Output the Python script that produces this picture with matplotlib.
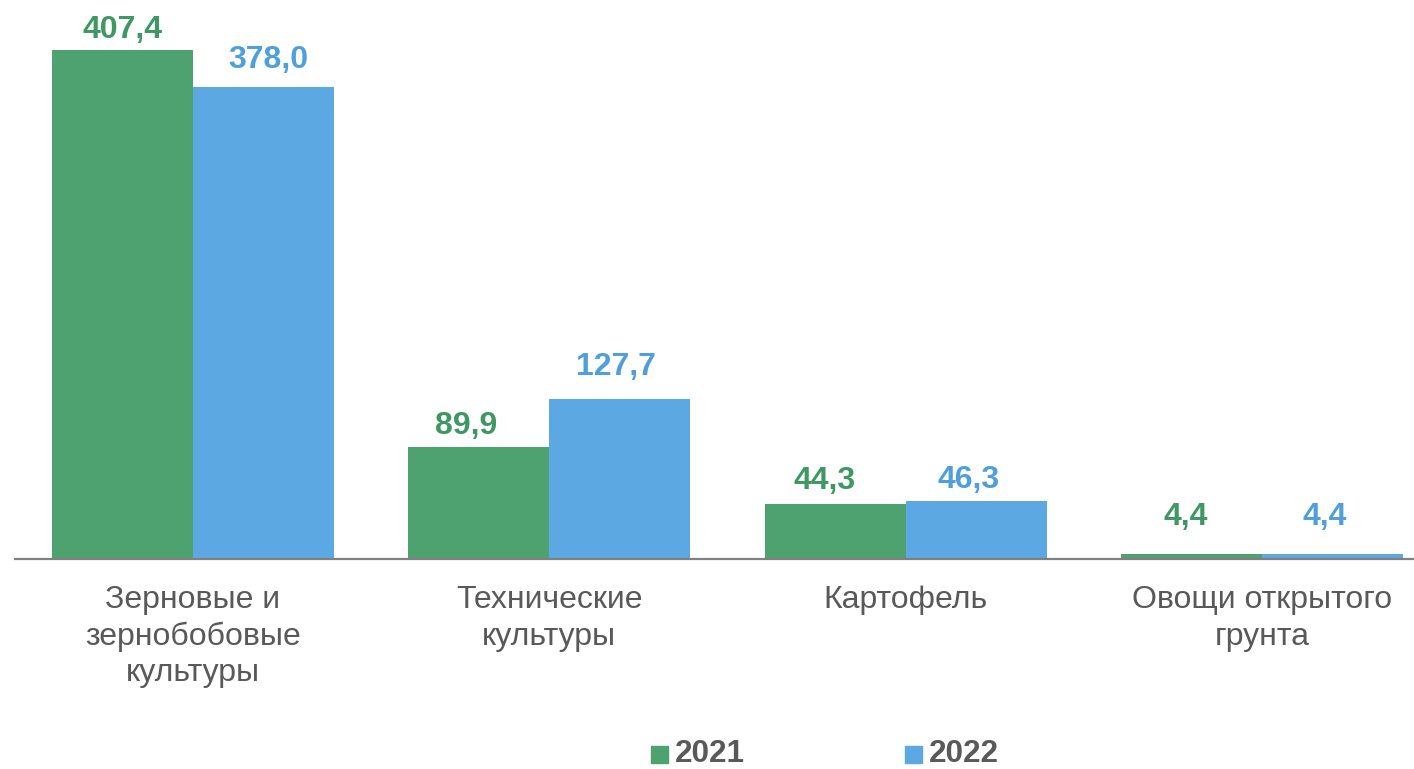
import matplotlib
matplotlib.use("Agg")
import matplotlib.pyplot as plt
import numpy as np

categories = ["Зерновые и\nзернобобовые\nкультуры", "Технические\nкультуры", "Картофель", "Овощи открытого\nгрунта"]
years = ["2021", "2022"]
v2021 = [407.4, 89.9, 44.3, 4.4]
v2022 = [378.0, 127.7, 46.3, 4.4]
# label offsets in pixels (dx, dy up), as placed by hand in the reference
off21 = [(0, 5), (-13, 6), (-11, 8), (-6, 22)]
off22 = [(5, 12), (-4, 17), (-8, 6), (-8, 22)]
c21, c22 = "#4EA270", "#5BA8E3"
t21, t22 = "#3F9762", "#4F9FDC"

W, H = 1414, 769
plt.rcParams['font.family'] = ['Liberation Sans', 'DejaVu Sans']
fig = plt.figure(figsize=(W/100, H/100), dpi=100)
left, right, top, bottom = 15, 1414, 50, 559
ax = fig.add_axes([left/W, 1-bottom/H, (right-left)/W, (bottom-top)/H])
x = np.arange(4)
bw = 141/356.33
ax.bar(x-bw/2, v2021, bw, color=c21)
ax.bar(x+bw/2, v2022, bw, color=c22)
ax.set_xlim(-0.4995, 3.4265)
ax.set_ylim(0, 407.4)
FS = 23
for i in x:
    ax.annotate(f"{v2021[i]:.1f}".replace(".", ","), (i-bw/2, v2021[i]),
                xytext=off21[i], textcoords="offset pixels",
                ha="center", va="bottom", color=t21, fontsize=FS, fontweight="bold", annotation_clip=False)
    ax.annotate(f"{v2022[i]:.1f}".replace(".", ","), (i+bw/2, v2022[i]),
                xytext=off22[i], textcoords="offset pixels",
                ha="center", va="bottom", color=t22, fontsize=FS, fontweight="bold", annotation_clip=False)
for s in ["top", "left", "right"]:
    ax.spines[s].set_visible(False)
ax.spines["bottom"].set_color("#808080")
ax.spines["bottom"].set_linewidth(1.6)
ax.set_yticks([])
ax.set_xticks(x)
ax.set_xticklabels(categories, fontsize=23, color="#595959", linespacing=1.27)
ax.tick_params(axis="x", length=0, pad=19)
for xp, c, lab in [(651, c21, years[0]), (905, c22, years[1])]:
    fig.patches.append(plt.Rectangle((xp/W, 1-763/H), 17/W, 17/H, transform=fig.transFigure, color=c))
    fig.text((xp+24)/W, 1-762/H, lab, fontsize=22.7, fontweight="bold", color="#595959", va="baseline", ha="left")
fig.savefig("out.png", dpi=100)
